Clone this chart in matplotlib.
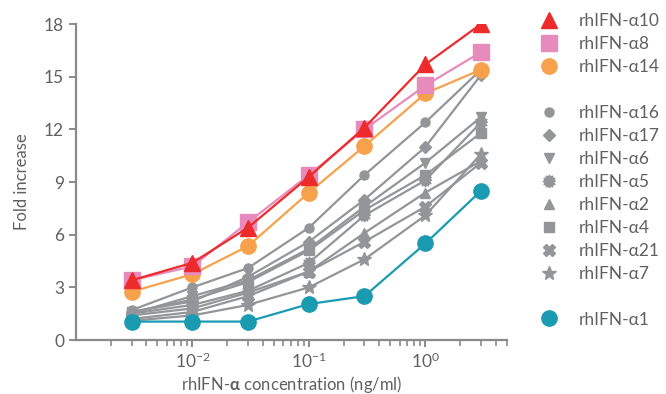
import numpy as np
import matplotlib
matplotlib.use("Agg")
import matplotlib.pyplot as plt
from matplotlib.lines import Line2D

plt.rcParams['font.family'] = ['Lato', 'DejaVu Sans']
plt.rcParams['mathtext.fontset'] = 'custom'
plt.rcParams['mathtext.rm'] = 'Lato'
plt.rcParams['mathtext.it'] = 'Lato'
plt.rcParams['mathtext.bf'] = 'Lato:bold'

conc = [0.003, 0.01, 0.03, 0.1, 0.3, 1, 3]

a10 = [3.4, 4.4, 6.4, 9.3, 12.1, 15.7, 18.0]
a8 = [3.4, 4.2, 6.7, 9.4, 12.0, 14.5, 16.4]
a14 = [2.75, 3.75, 5.35, 8.4, 11.05, 14.05, 15.4]
a16 = [1.7, 3.0, 4.1, 6.4, 9.4, 12.4, 15.4]
a17 = [1.6, 2.2, 3.6, 5.6, 8.0, 11.0, 15.1]
a6 = [1.5, 2.5, 3.4, 5.2, 7.6, 10.1, 12.7]
a5 = [1.5, 2.0, 2.8, 4.4, 7.1, 9.1, 12.4]
a2 = [1.4, 1.8, 2.7, 3.9, 6.1, 8.4, 10.2]
a4 = [1.6, 2.3, 3.3, 5.1, 7.4, 9.4, 11.8]
a21 = [1.2, 1.6, 2.5, 3.9, 5.6, 7.6, 10.1]
a7 = [1.1, 1.4, 2.0, 3.0, 4.6, 7.1, 10.6]
a1 = [1.05, 1.05, 1.05, 2.05, 2.5, 5.5, 8.5]

yticks = [0, 3, 6, 9, 12, 15, 18]

# gear-like marker
ang = np.linspace(0, 2 * np.pi, 24, endpoint=False)
rad = np.where(np.arange(24) % 2 == 0, 1.0, 0.72)
gear = list(zip(rad * np.cos(ang), rad * np.sin(ang)))

GRAY = '#939598'
RED = '#EE2B2B'
PINK = '#E68BBC'
ORANGE = '#F7A14C'
TEAL = '#1A9BB1'
TXT = '#606060'

fig = plt.figure(figsize=(6.66, 3.94), dpi=100)
ax = fig.add_axes([0.114, 0.137, 0.647, 0.802])

gray_series = [
    ('rhIFN-α16', a16, 'o', 6.5),
    ('rhIFN-α17', a17, 'D', 6.0),
    ('rhIFN-α6', a6, 'v', 7.0),
    ('rhIFN-α5', a5, gear, 9.0),
    ('rhIFN-α2', a2, '^', 7.0),
    ('rhIFN-α4', a4, 's', 6.5),
    ('rhIFN-α21', a21, 'X', 8.0),
    ('rhIFN-α7', a7, '*', 10.0),
]
handles = {}
for name, vals, mk, ms in gray_series:
    h, = ax.plot(conc, vals, color=GRAY, lw=1.6, marker=mk, ms=ms,
                 mec=GRAY, mfc=GRAY, zorder=2)
    handles[name] = h

h1, = ax.plot(conc, a1, color=TEAL, lw=1.6, marker='o', ms=11, zorder=3)
h14, = ax.plot(conc, a14, color=ORANGE, lw=1.6, marker='o', ms=11, zorder=4)
h8, = ax.plot(conc, a8, color=PINK, lw=1.6, marker='s', ms=11, zorder=5)
h10, = ax.plot(conc, a10, color=RED, lw=1.6, marker='^', ms=11, zorder=6)

ax.set_xscale('log')
ax.set_xlim(1e-3, 5)
ax.set_ylim(0, 18)
ax.set_yticks(yticks)
ax.set_xticks([1e-2, 1e-1, 1e0])

for s in ['top', 'right']:
    ax.spines[s].set_visible(False)
for s in ['left', 'bottom']:
    ax.spines[s].set_color('#8a8a8a')
    ax.spines[s].set_linewidth(1.6)
ax.tick_params(axis='both', which='major', direction='out', length=5,
               width=1.4, color='#8a8a8a', labelcolor=TXT, labelsize=12.5)
ax.tick_params(axis='x', which='minor', direction='out', length=4,
               width=1.2, color='#8a8a8a')
ax.set_xlabel('rhIFN-$\\mathbf{α}$ concentration (ng/ml)', color=TXT,
              fontsize=12, labelpad=2)
ax.set_ylabel('Fold increase', color=TXT, fontsize=12, labelpad=10)

blank = Line2D([], [], linestyle='none', marker=None)
leg_handles = [h10, h8, h14, blank] + [handles[n] for n, *_ in gray_series] + [blank, h1]
leg_labels = ['rhIFN-α10', 'rhIFN-α8', 'rhIFN-α14', ''] + [n for n, *_ in gray_series] + ['', 'rhIFN-α1']
leg = fig.legend(leg_handles, leg_labels, loc='upper left',
                 bbox_to_anchor=(0.799, 0.984), frameon=False,
                 fontsize=12.5, handlelength=1.2, handletextpad=1.1,
                 labelspacing=0.40, borderaxespad=0)
for t in leg.get_texts():
    t.set_color(TXT)
for lh in leg.legend_handles:
    lh.set_linestyle('none')

fig.savefig('out.png', dpi=100)
